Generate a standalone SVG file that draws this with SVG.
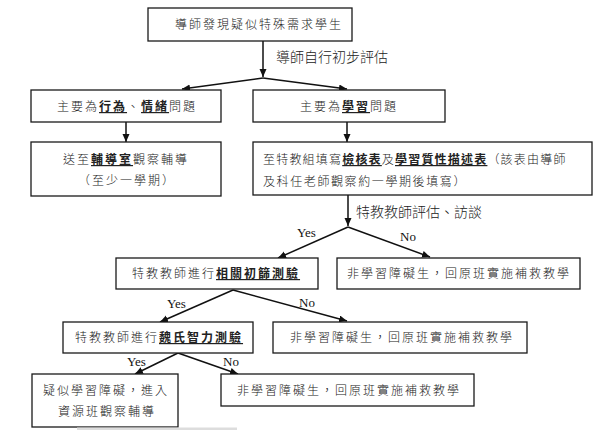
<svg xmlns="http://www.w3.org/2000/svg" width="600" height="430" viewBox="0 0 600 430">
<style>
.box{fill:#fff;stroke:#1a1a1a;stroke-width:1.3}
.t{font-family:"Noto Sans CJK TC","Noto Sans CJK SC",sans-serif;font-size:12px;font-weight:300;letter-spacing:2px;fill:#222}
.u{font-weight:bold;text-decoration:underline}
.lbl{font-family:"Noto Sans CJK TC","Noto Sans CJK SC",sans-serif;font-size:14px;font-weight:300;fill:#222}
.yn{font-family:"Liberation Serif",serif;font-size:13px;fill:#111}
.c{stroke:#111;stroke-width:1.5;fill:none;marker-end:url(#ah)}
</style>
<defs>
<marker id="ah" markerUnits="userSpaceOnUse" markerWidth="9" markerHeight="8" refX="8" refY="3.5" orient="auto">
<path d="M0,0 L8,3.5 L0,7 z" fill="#111"/>
</marker>
</defs>
<rect x="0" y="0" width="600" height="430" fill="#fff"/>
<g id="connectors">
<line class="c" x1="263" y1="41" x2="263" y2="77"/>
<line class="c" x1="263" y1="78" x2="182" y2="89"/>
<line class="c" x1="263" y1="78" x2="347" y2="89"/>
<line class="c" x1="126" y1="122" x2="126" y2="142"/>
<line class="c" x1="347" y1="122" x2="347" y2="142"/>
<line class="c" x1="348" y1="195" x2="348" y2="226"/>
<line class="c" x1="348" y1="227" x2="278" y2="258"/>
<line class="c" x1="348" y1="227" x2="430" y2="257"/>
<line class="c" x1="233" y1="290" x2="160" y2="322"/>
<line class="c" x1="233" y1="290" x2="347" y2="321"/>
<line class="c" x1="178" y1="353" x2="135" y2="374"/>
<line class="c" x1="178" y1="353" x2="238" y2="374"/>
<text class="lbl" x="276" y="62">導師自行初步評估</text>
<text class="lbl" x="356" y="217">特教教師評估、訪談</text>
<text class="yn" x="297" y="237">Yes</text>
<text class="yn" x="400" y="241">No</text>
<text class="yn" x="167" y="308">Yes</text>
<text class="yn" x="299" y="307">No</text>
<text class="yn" x="127" y="366">Yes</text>
<text class="yn" x="223" y="366">No</text>
</g>
<g id="n1"><rect class="box" x="148" y="8" width="204" height="33"/><text class="t" x="175" y="29">導師發現疑似特殊需求學生</text></g>
<g id="n2"><rect class="box" x="31" y="90" width="190" height="32"/><text class="t" x="57" y="111">主要為<tspan class="u">行為</tspan>、<tspan class="u">情緒</tspan>問題</text></g>
<g id="n3"><rect class="box" x="253" y="90" width="192" height="32"/><text class="t" x="300" y="111">主要為<tspan class="u">學習</tspan>問題</text></g>
<g id="n4"><rect class="box" x="31" y="142" width="190" height="54"/><text class="t" x="63" y="164">送至<tspan class="u">輔導室</tspan>觀察輔導</text><text class="t" x="78" y="185">（至少一學期）</text></g>
<g id="n5"><rect class="box" x="253" y="142" width="339" height="53"/><text class="t" x="263" y="164" style="letter-spacing:1.2px">至特教組填寫<tspan class="u">檢核表</tspan>及<tspan class="u">學習質性描述表</tspan>（該表由導師</text><text class="t" x="263" y="186" style="letter-spacing:1.6px">及科任老師觀察約一學期後填寫）</text></g>
<g id="n6"><rect class="box" x="116" y="258" width="202" height="31"/><text class="t" x="132" y="278">特教教師進行<tspan class="u">相關初篩測驗</tspan></text></g>
<g id="n7"><rect class="box" x="337" y="258" width="243" height="31"/><text class="t" x="347" y="278">非學習障礙生，回原班實施補救教學</text></g>
<g id="n8"><rect class="box" x="63" y="322" width="190" height="31"/><text class="t" x="75" y="342">特教教師進行<tspan class="u">魏氏智力測驗</tspan></text></g>
<g id="n9"><rect class="box" x="273" y="322" width="254" height="31"/><text class="t" x="290" y="342">非學習障礙生，回原班實施補救教學</text></g>
<g id="n10"><rect class="box" x="32" y="374" width="146" height="53"/><text class="t" x="43" y="395">疑似學習障礙，進入</text><text class="t" x="58" y="416">資源班觀察輔導</text></g>
<g id="n11"><rect class="box" x="221" y="374" width="253" height="32"/><text class="t" x="237" y="395">非學習障礙生，回原班實施補救教學</text></g>
<rect x="77" y="427.5" width="160" height="2.5" fill="#ddd"/>
</svg>
